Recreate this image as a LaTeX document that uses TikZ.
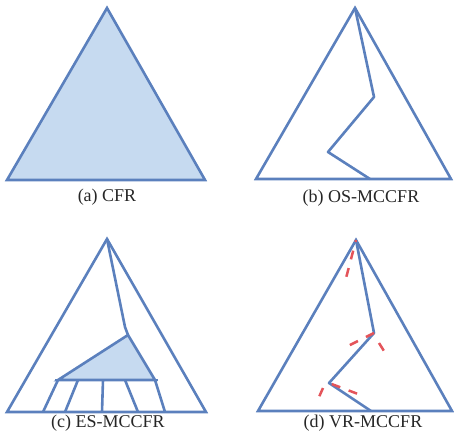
\documentclass[tikz,border=0pt]{standalone}
\usepackage{fontspec}
\setmainfont{Liberation Serif}
\usetikzlibrary{calc}
\definecolor{treeblue}{HTML}{5B80BD}
\definecolor{treefill}{HTML}{C6DAF0}
\definecolor{probered}{HTML}{E4545A}

\begin{document}
\begin{tikzpicture}[
  x=1pt, y=-1pt,
  font=\fontsize{18}{20}\selectfont,
  tree/.style={draw=treeblue, line width=2.6pt, line join=miter},
  walk/.style={draw=treeblue, line width=2.6pt, line join=round},
  probe/.style={draw=probered, line width=2.5pt, dash pattern=on 9pt off 9pt},
  lbl/.style={inner sep=0pt, text=black!85},
]
\useasboundingbox (0,0) rectangle (454,441);

% =========================== (a) CFR ===========================
\coordinate (aT) at (107,8);
\coordinate (aL) at (7,180);
\coordinate (aR) at (205,180);
\draw[tree, fill=treefill] (aT) -- (aL) -- (aR) -- cycle;
\node[lbl] (alab) at (107,197) {(a) CFR};

% =========================== (b) OS-MCCFR ===========================
\coordinate (bT) at (355,8);
\coordinate (bL) at (256,179);
\coordinate (bR) at (451,179);
\draw[tree] (bT) -- (bL) -- (bR) -- cycle;
\coordinate (b1) at (374,97);
\coordinate (b2) at (328,152);
\coordinate (b3) at (370,179);
\draw[walk] (bT) -- (b1) -- (b2) -- (b3);
\node[lbl] (blab) at (361,198) {(b) OS-MCCFR};

% =========================== (c) ES-MCCFR ===========================
\coordinate (cT) at (107,239);
\coordinate (cL) at (7,412);
\coordinate (cR) at (206,412);
\draw[tree] (cT) -- (cL) -- (cR) -- cycle;
\coordinate (c1) at (125,327);
\coordinate (c2) at (128,335);
\coordinate (cA) at (58,380);
\coordinate (cB) at (155,380);
\draw[walk] (cT) -- (c1) -- (c2);
\draw[tree, fill=treefill] (c2) -- (cA) -- (cB) -- cycle;
\draw[tree] (55,380) -- (158,380);
% sampled subtrees below the shaded node
\foreach \xt/\xb in {58/43, 78/65, 103/102, 125/138, 155/165}{
  \draw[tree] (\xt,380) -- (\xb,412);
}
\node[lbl] (clab) at (108,423) {(c) ES-MCCFR};

% =========================== (d) VR-MCCFR ===========================
\coordinate (dT) at (356,240);
\coordinate (dL) at (258,411);
\coordinate (dR) at (452,411);
\draw[tree] (dT) -- (dL) -- (dR) -- cycle;
\coordinate (d1) at (374,333);
\coordinate (d2) at (329,383);
\coordinate (d3) at (371,411);
\draw[walk] (dT) -- (d1) -- (d2) -- (d3);
% baseline estimates off the sampled path
\draw[probe, dash phase=-11pt] (dT) -- (345,282);
\draw[probe] (d1) -- (346,347);
\draw[probe] (379,343) -- (384,351);
\draw[probe, dash phase=-3pt] (d2) -- (358,394);
\draw[probe] (323,388) -- (319,397);
\node[lbl] (dlab) at (363,423) {(d) VR-MCCFR};

\end{tikzpicture}
\end{document}
